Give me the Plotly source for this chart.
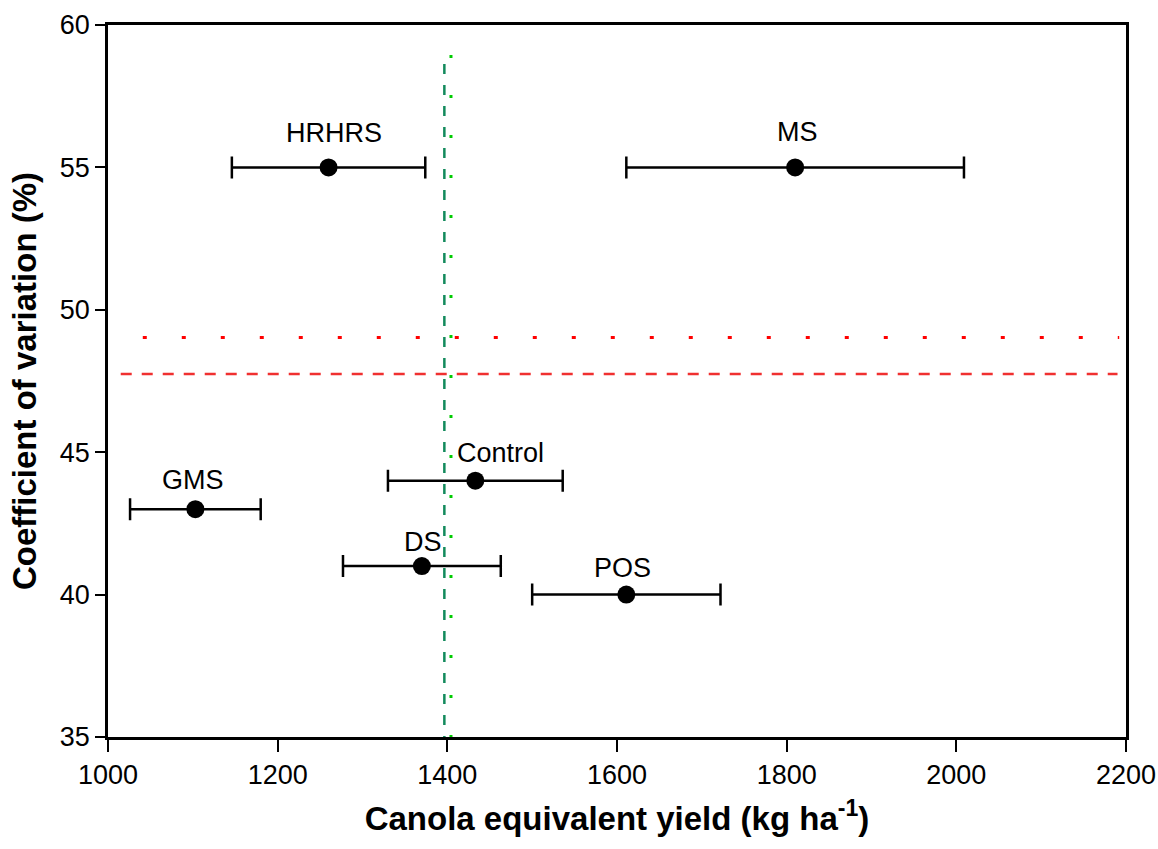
import plotly.graph_objects as go

# ---- data ----
treatments = ["HRHRS", "MS", "GMS", "Control", "DS", "POS"]
yield_kg = [1260, 1810, 1103, 1433, 1370, 1611]
yield_err = [114, 199, 77, 103, 93, 111]
cv_pct = [55, 55, 43, 44, 41, 40]

# reference lines
cv_mean_dashed = 47.75
cv_mean_dotted = 49.03
yield_mean_dashed = 1396.5
yield_mean_dotted = 1404.3
hline_dashed_x = [1015, 2190]
hline_dotted_x = [1041, 2192]
vline_dashed_y = [58.63, 35]
vline_dotted_y = [58.95, 35]

x_ticks = [1000, 1200, 1400, 1600, 1800, 2000, 2200]
y_ticks = [35, 40, 45, 50, 55, 60]

# label offsets (pixels) - style
label_xshift = [5, 2, -2, 25, 1, -4]
label_yshift = [34, 35, 29, 28, 24, 27]

FONT = "Liberation Sans, Arial, sans-serif"

fig = go.Figure()

# reference lines
fig.add_trace(go.Scatter(x=hline_dotted_x, y=[cv_mean_dotted] * 2, mode="lines",
                         line=dict(color="#ff0000", width=3, dash="4px,35px"),
                         hoverinfo="skip", showlegend=False))
fig.add_trace(go.Scatter(x=hline_dashed_x, y=[cv_mean_dashed] * 2, mode="lines",
                         line=dict(color="#f03030", width=2.5, dash="11px,10px"),
                         hoverinfo="skip", showlegend=False))
fig.add_trace(go.Scatter(x=[yield_mean_dashed] * 2, y=vline_dashed_y, mode="lines",
                         line=dict(color="#128a5c", width=2.5, dash="10px,11px"),
                         hoverinfo="skip", showlegend=False))
fig.add_trace(go.Scatter(x=[yield_mean_dotted] * 2, y=vline_dotted_y, mode="lines",
                         line=dict(color="#00cc00", width=3, dash="3px,37px"),
                         hoverinfo="skip", showlegend=False))

# points with error bars
fig.add_trace(go.Scatter(
    x=yield_kg, y=cv_pct, mode="markers",
    marker=dict(color="black", size=18),
    error_x=dict(type="data", array=yield_err, visible=True,
                 color="black", thickness=2.5, width=11),
    showlegend=False,
))

for name, xv, yv, xs, ys in zip(treatments, yield_kg, cv_pct, label_xshift, label_yshift):
    fig.add_annotation(x=xv, y=yv, text=name, showarrow=False,
                       xshift=xs, yshift=ys, yanchor="middle",
                       font=dict(family=FONT, size=27, color="black"))

fig.update_layout(
    width=1158, height=849,
    margin=dict(l=108, r=32, t=25, b=112),
    paper_bgcolor="white", plot_bgcolor="white",
    font=dict(family=FONT, color="black"),
    xaxis=dict(
        range=[1000, 2200], tickvals=x_ticks, ticks="outside", ticklen=12,
        tickwidth=2, tickcolor="black", showline=True, linecolor="black",
        linewidth=2.5, mirror=True, showgrid=False, zeroline=False,
        automargin=False,
        tickfont=dict(family=FONT, size=27, color="black"),
        title=dict(text="<b>Canola equivalent yield (kg ha<sup>-1</sup>)</b>",
                   font=dict(family=FONT, size=33, color="black"), standoff=18),
    ),
    yaxis=dict(
        range=[35, 60], tickvals=y_ticks, ticks="outside", ticklen=10,
        tickwidth=2, tickcolor="black", showline=True, linecolor="black",
        linewidth=2.5, mirror=True, showgrid=False, zeroline=False,
        automargin=False,
        tickfont=dict(family=FONT, size=27, color="black"),
        title=dict(text="<b>Coefficient of variation (%)</b>",
                   font=dict(family=FONT, size=33, color="black"), standoff=14),
    ),
)

fig.write_html("out.html")
